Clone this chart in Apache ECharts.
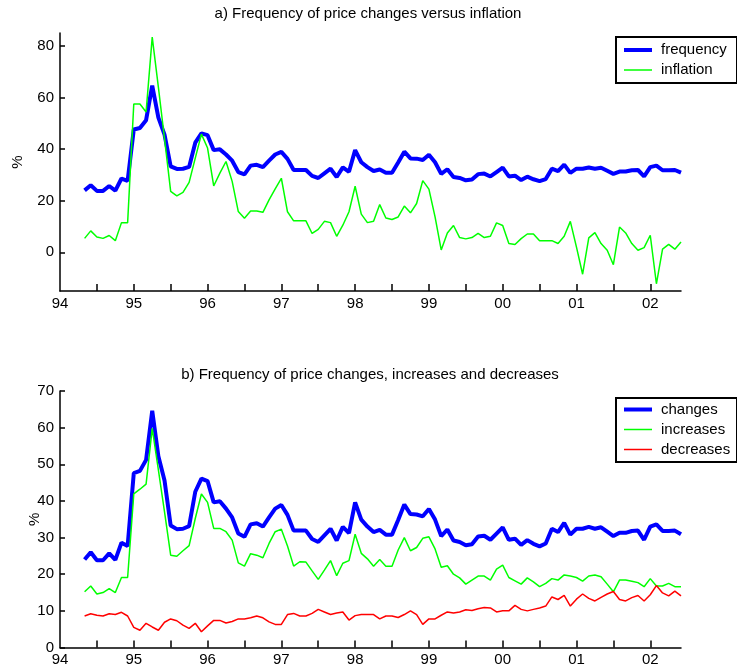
<!DOCTYPE html>
<html>
<head>
<meta charset="utf-8">
<script src="https://cdn.jsdelivr.net/npm/echarts@6/dist/echarts.min.js"></script>
<style>
  html, body { margin: 0; padding: 0; background: #ffffff; }
  #chart { width: 737px; height: 672px; }
</style>
</head>
<body>
<div id="chart"></div>
<script>
// Monthly observations, May 1994 to June 2002 (in %)
const startYear = 94;
const startMonth = 5;

// Frequency of price changes (same series is shown as "changes" in panel b)
const frequency = [
  24.0, 26.0, 23.8, 23.8, 25.7, 23.9, 28.6, 27.7, 47.6, 48.2,
  51.2, 64.6, 52.2, 45.6, 33.3, 32.3, 32.4, 33.1, 42.5, 46.1,
  45.4, 39.6, 39.9, 37.9, 35.5, 31.1, 30.2, 33.6, 33.9, 33.0,
  35.5, 37.9, 38.9, 36.2, 31.9, 31.9, 31.9, 29.6, 28.8, 30.6,
  32.4, 29.2, 32.9, 31.2, 39.6, 34.9, 33.0, 31.5, 32.1, 30.8,
  30.8, 34.8, 39.0, 36.4, 36.3, 35.8, 37.8, 34.9, 30.4, 32.2,
  29.2, 28.8, 27.9, 28.2, 30.3, 30.5, 29.4, 31.1, 32.8, 29.4,
  29.7, 28.0, 29.3, 28.3, 27.6, 28.4, 32.4, 31.5, 34.0, 30.8,
  32.4, 32.4, 32.9, 32.4, 32.8, 31.6, 30.4, 31.3, 31.3, 31.8,
  31.9, 29.4, 33.0, 33.6, 31.8, 31.8, 31.9, 30.9
];

// Inflation
const inflation = [
  5.4, 8.3, 5.9, 5.4, 6.5, 4.5, 11.5, 11.5, 57.5, 57.5,
  54.4, 83.4, 64.0, 44.0, 23.6, 21.9, 23.2, 27.1, 36.5, 45.8,
  40.4, 25.7, 30.7, 35.2, 27.5, 15.8, 13.2, 16.0, 16.0, 15.5,
  20.3, 24.6, 28.7, 15.7, 12.2, 12.2, 12.2, 7.3, 8.9, 12.0,
  11.5, 6.2, 10.5, 15.7, 25.6, 14.8, 11.5, 12.0, 18.5, 13.3,
  12.7, 13.7, 17.9, 15.3, 18.9, 27.8, 24.5, 13.7, 0.9, 7.5,
  10.4, 5.7, 5.2, 5.7, 7.3, 5.7, 6.2, 11.4, 10.4, 3.4,
  3.0, 5.3, 7.1, 7.1, 4.5, 4.5, 4.5, 3.4, 6.2, 12.0,
  2.0, -8.5, 5.6, 7.6, 3.4, 0.8, -4.8, 9.8, 7.5, 3.4,
  0.8, 1.8, 6.6, -12.2, 1.2, 3.1, 1.2, 4.0
];

// Frequency of price increases
const increases = [
  15.2, 16.8, 14.6, 15.0, 16.1, 15.0, 19.1, 19.1, 41.9, 43.2,
  44.6, 59.8, 48.5, 37.0, 25.2, 24.9, 26.4, 27.8, 35.2, 41.9,
  39.6, 32.5, 32.5, 31.6, 29.3, 23.1, 22.2, 25.6, 25.2, 24.5,
  28.4, 31.6, 32.3, 27.7, 22.2, 23.4, 23.3, 20.9, 18.6, 21.1,
  23.7, 19.6, 23.0, 23.7, 30.9, 25.7, 24.2, 22.2, 24.0, 22.2,
  22.2, 26.6, 30.0, 26.4, 27.3, 29.8, 30.2, 26.9, 21.9, 22.3,
  20.0, 19.0, 17.3, 18.4, 19.5, 19.5, 18.4, 21.4, 22.5, 19.1,
  18.2, 17.3, 19.0, 17.9, 16.6, 17.5, 18.8, 18.4, 19.8, 19.5,
  19.1, 18.1, 19.5, 19.8, 19.3, 17.3, 15.2, 18.4, 18.4, 18.1,
  17.7, 16.6, 18.8, 16.8, 16.8, 17.5, 16.6, 16.6
];

// Frequency of price decreases
const decreases = [
  8.6, 9.2, 8.8, 8.6, 9.2, 9.0, 9.6, 8.6, 5.5, 4.7,
  6.6, 5.6, 4.7, 6.9, 7.8, 7.3, 6.1, 5.2, 6.6, 4.3,
  5.9, 7.4, 7.4, 6.7, 7.1, 7.8, 7.8, 8.1, 8.6, 8.1,
  7.0, 6.3, 6.3, 9.0, 9.3, 8.6, 8.6, 9.3, 10.4, 9.7,
  9.0, 9.4, 9.7, 7.5, 8.7, 9.0, 9.0, 9.0, 7.8, 8.6,
  8.6, 8.2, 9.0, 10.0, 9.0, 6.3, 7.8, 7.8, 8.8, 9.7,
  9.4, 9.7, 10.3, 10.1, 10.6, 10.9, 10.8, 9.7, 10.0, 10.0,
  11.5, 10.4, 10.0, 10.4, 10.8, 11.3, 13.8, 13.1, 14.2, 11.3,
  13.2, 14.6, 13.4, 12.7, 13.7, 14.6, 15.3, 13.1, 12.7, 13.6,
  14.2, 12.7, 14.4, 16.9, 14.9, 14.1, 15.4, 14.1
];

// Axis ticks and labels
const yearTicks = [94, 95, 96, 97, 98, 99, 100, 101, 102];
const yearLabels = ['94', '95', '96', '97', '98', '99', '00', '01', '02'];
const halfYearTicks = [94.5, 95, 95.5, 96, 96.5, 97, 97.5, 98, 98.5, 99, 99.5,
                       100, 100.5, 101, 101.5, 102];
const topYTicks = [0, 20, 40, 60, 80];

const titleA = 'a) Frequency of price changes versus inflation';
const titleB = 'b) Frequency of price changes, increases and decreases';

// Time position of each monthly observation, in years
const monthPos = frequency.map((_, i) => startYear + (startMonth - 1 + i) / 12);
const xMax = monthPos[monthPos.length - 1];
const pairs = arr => arr.map((v, i) => [monthPos[i], v]);

const FONT = '"Liberation Sans", Arial, Helvetica, sans-serif';
const BLUE = '#0000ff', GREEN = '#00ff00', RED = '#ff0000';
const labelStyle = { fontFamily: FONT, fontSize: 15, color: '#000' };
const axisLineStyle = { color: '#000', width: 1.5 };

function xAxisFor(gridIndex) {
  return {
    type: 'value', gridIndex, min: 94, max: xMax,
    axisLine: { onZero: false, lineStyle: axisLineStyle },
    axisTick: { inside: true, length: 7, customValues: halfYearTicks, lineStyle: axisLineStyle },
    axisLabel: Object.assign({
      customValues: yearTicks, margin: 5,
      formatter: v => yearLabels[yearTicks.indexOf(Math.round(v))] || ''
    }, labelStyle),
    splitLine: { show: false }
  };
}

function lineSeries(name, data, color, width, axisIndex, z) {
  return {
    name, type: 'line', data: pairs(data),
    xAxisIndex: axisIndex, yAxisIndex: axisIndex,
    symbol: 'none', showSymbol: false, smooth: false, z,
    lineStyle: { color, width }, itemStyle: { color },
    emphasis: { disabled: true }
  };
}

// Legend boxes, drawn as plain graphics
function legendBox(x, y, w, h, firstRow, rows) {
  const children = [{
    type: 'rect', shape: { x, y, width: w, height: h },
    style: { fill: '#fff', stroke: '#000', lineWidth: 2 }
  }];
  rows.forEach((r, k) => {
    const cy = y + firstRow + k * 20;
    children.push({
      type: 'line', shape: { x1: x + 8, y1: cy, x2: x + 36, y2: cy },
      style: { stroke: r.color, lineWidth: r.width }
    });
    children.push({
      type: 'text', x: x + 45, y: cy,
      style: { text: r.name, font: '15px ' + FONT, fill: '#000', verticalAlign: 'middle', align: 'left' }
    });
  });
  return { type: 'group', children, z: 100 };
}

const chart = echarts.init(document.getElementById('chart'), null, { renderer: 'canvas' });
chart.setOption({
  animation: false,
  backgroundColor: '#fff',
  title: [
    { text: titleA, left: 368, top: 6, textAlign: 'center', padding: 0,
      textStyle: { fontFamily: FONT, fontSize: 15, fontWeight: 'normal', color: '#000' } },
    { text: titleB, left: 370, top: 367, textAlign: 'center', padding: 0,
      textStyle: { fontFamily: FONT, fontSize: 15, fontWeight: 'normal', color: '#000' } }
  ],
  grid: [
    { left: 60, right: 56, top: 33, bottom: 381 },
    { left: 60, right: 56, top: 391, bottom: 24.5 }
  ],
  xAxis: [xAxisFor(0), xAxisFor(1)],
  yAxis: [
    {
      type: 'value', gridIndex: 0, min: -15, max: 85,
      name: '%', nameLocation: 'middle', nameRotate: 90, nameGap: 35,
      nameMoveOverlap: false,
      nameTextStyle: labelStyle,
      axisLine: { onZero: false, lineStyle: axisLineStyle },
      axisTick: { inside: true, length: 5, customValues: topYTicks, lineStyle: axisLineStyle },
      axisLabel: Object.assign({ customValues: topYTicks, margin: 6 }, labelStyle),
      splitLine: { show: false }
    },
    {
      type: 'value', gridIndex: 1, min: 0, max: 70, interval: 10,
      name: '%', nameLocation: 'middle', nameRotate: 90, nameGap: 18,
      nameMoveOverlap: false,
      nameTextStyle: labelStyle,
      axisLine: { onZero: false, lineStyle: axisLineStyle },
      axisTick: { inside: true, length: 5, lineStyle: axisLineStyle },
      axisLabel: Object.assign({ margin: 6 }, labelStyle),
      splitLine: { show: false }
    }
  ],
  series: [
    lineSeries('frequency', frequency, BLUE, 4, 0, 2),
    lineSeries('inflation', inflation, GREEN, 1.5, 0, 3),
    lineSeries('changes', frequency, BLUE, 4, 1, 2),
    lineSeries('increases', increases, GREEN, 1.5, 1, 3),
    lineSeries('decreases', decreases, RED, 1.5, 1, 4)
  ],
  graphic: [
    legendBox(616, 37, 121, 46, 13, [
      { name: 'frequency', color: BLUE, width: 4 },
      { name: 'inflation', color: GREEN, width: 1.5 }
    ]),
    legendBox(616, 398, 121, 64, 11.5, [
      { name: 'changes', color: BLUE, width: 4 },
      { name: 'increases', color: GREEN, width: 1.5 },
      { name: 'decreases', color: RED, width: 1.5 }
    ])
  ]
});
</script>
</body>
</html>
